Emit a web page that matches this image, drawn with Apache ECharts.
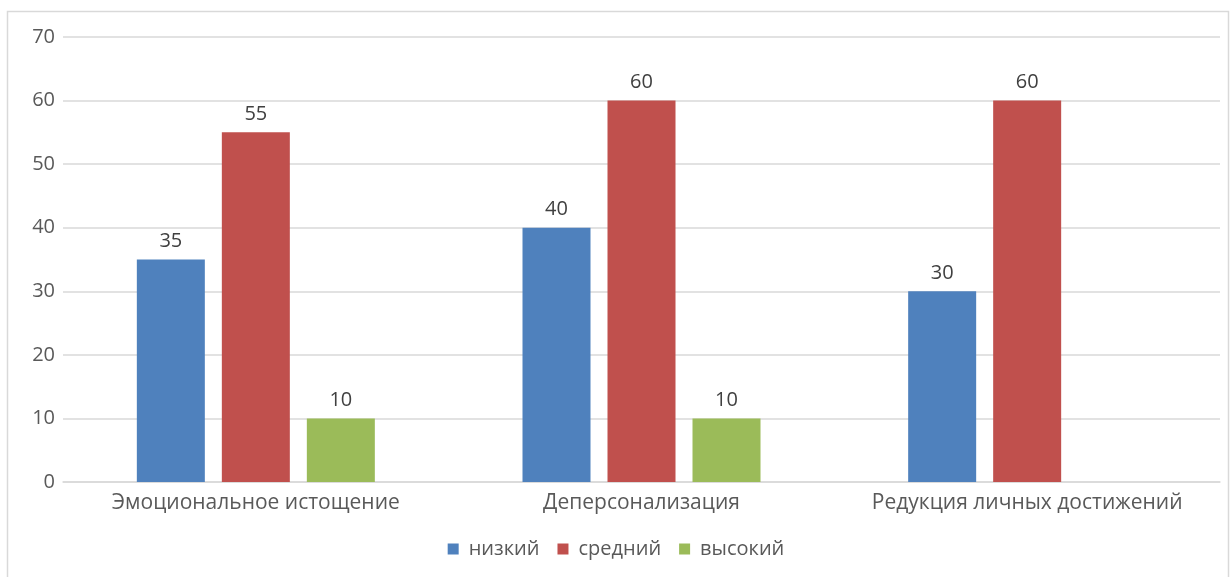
<!DOCTYPE html>
<html>
<head>
<meta charset="utf-8">
<script src="https://cdn.jsdelivr.net/npm/echarts@6/dist/echarts.min.js"></script>
<style>
html,body{margin:0;padding:0;background:#fff;}
#c{width:1232px;height:577px;}
</style>
</head>
<body>
<div id="c"></div>
<script>
var categories = ['Эмоциональное истощение', 'Деперсонализация', 'Редукция личных достижений'];
var seriesNames = ['низкий', 'средний', 'высокий'];
var lowValues = [35, 40, 30];
var midValues = [55, 60, 60];
var highValues = [10, 10, null];
var yTicks = [0, 10, 20, 30, 40, 50, 60, 70];

var colors = ['#4f81bd', '#c0504d', '#9bbb59'];
var font = '"Open Sans", "Noto Sans", sans-serif';
var chart = echarts.init(document.getElementById('c'));
function mk(name, data, color) {
  return {
    name: name, type: 'bar', data: data, barWidth: 68, barGap: '25%',
    itemStyle: {color: color},
    label: {show: true, position: 'top', distance: 8, color: '#404040', fontSize: 20, fontFamily: font},
    animation: false
  };
}
chart.setOption({
  animation: false,
  graphic: [{type: 'rect', shape: {x: 7.5, y: 11.5, width: 1221, height: 600}, style: {fill: 'none', stroke: '#d9d9d9', lineWidth: 1.5}, silent: true}],
  grid: {left: 63, right: 12, top: 37, bottom: 95, containLabel: false},
  legend: {
    data: seriesNames, bottom: 13, left: 'center', itemWidth: 11, itemHeight: 11, itemGap: 18,
    icon: 'rect',
    textStyle: {color: '#595959', fontSize: 20, fontFamily: font, padding: [0, 0, 0, 5]}
  },
  xAxis: {
    type: 'category', data: categories,
    axisLine: {lineStyle: {color: '#d9d9d9', width: 1.5}},
    axisTick: {show: false},
    axisLabel: {color: '#595959', fontSize: 21, fontFamily: font, margin: 11, interval: 0, hideOverlap: false}
  },
  yAxis: {
    type: 'value', min: yTicks[0], max: yTicks[yTicks.length - 1], interval: 10,
    axisLine: {show: false}, axisTick: {show: false},
    splitLine: {lineStyle: {color: '#d9d9d9', width: 1.5}},
    axisLabel: {color: '#595959', fontSize: 20, fontFamily: font, margin: 8}
  },
  series: [mk(seriesNames[0], lowValues, colors[0]), mk(seriesNames[1], midValues, colors[1]), mk(seriesNames[2], highValues, colors[2])]
});
</script>
</body>
</html>
